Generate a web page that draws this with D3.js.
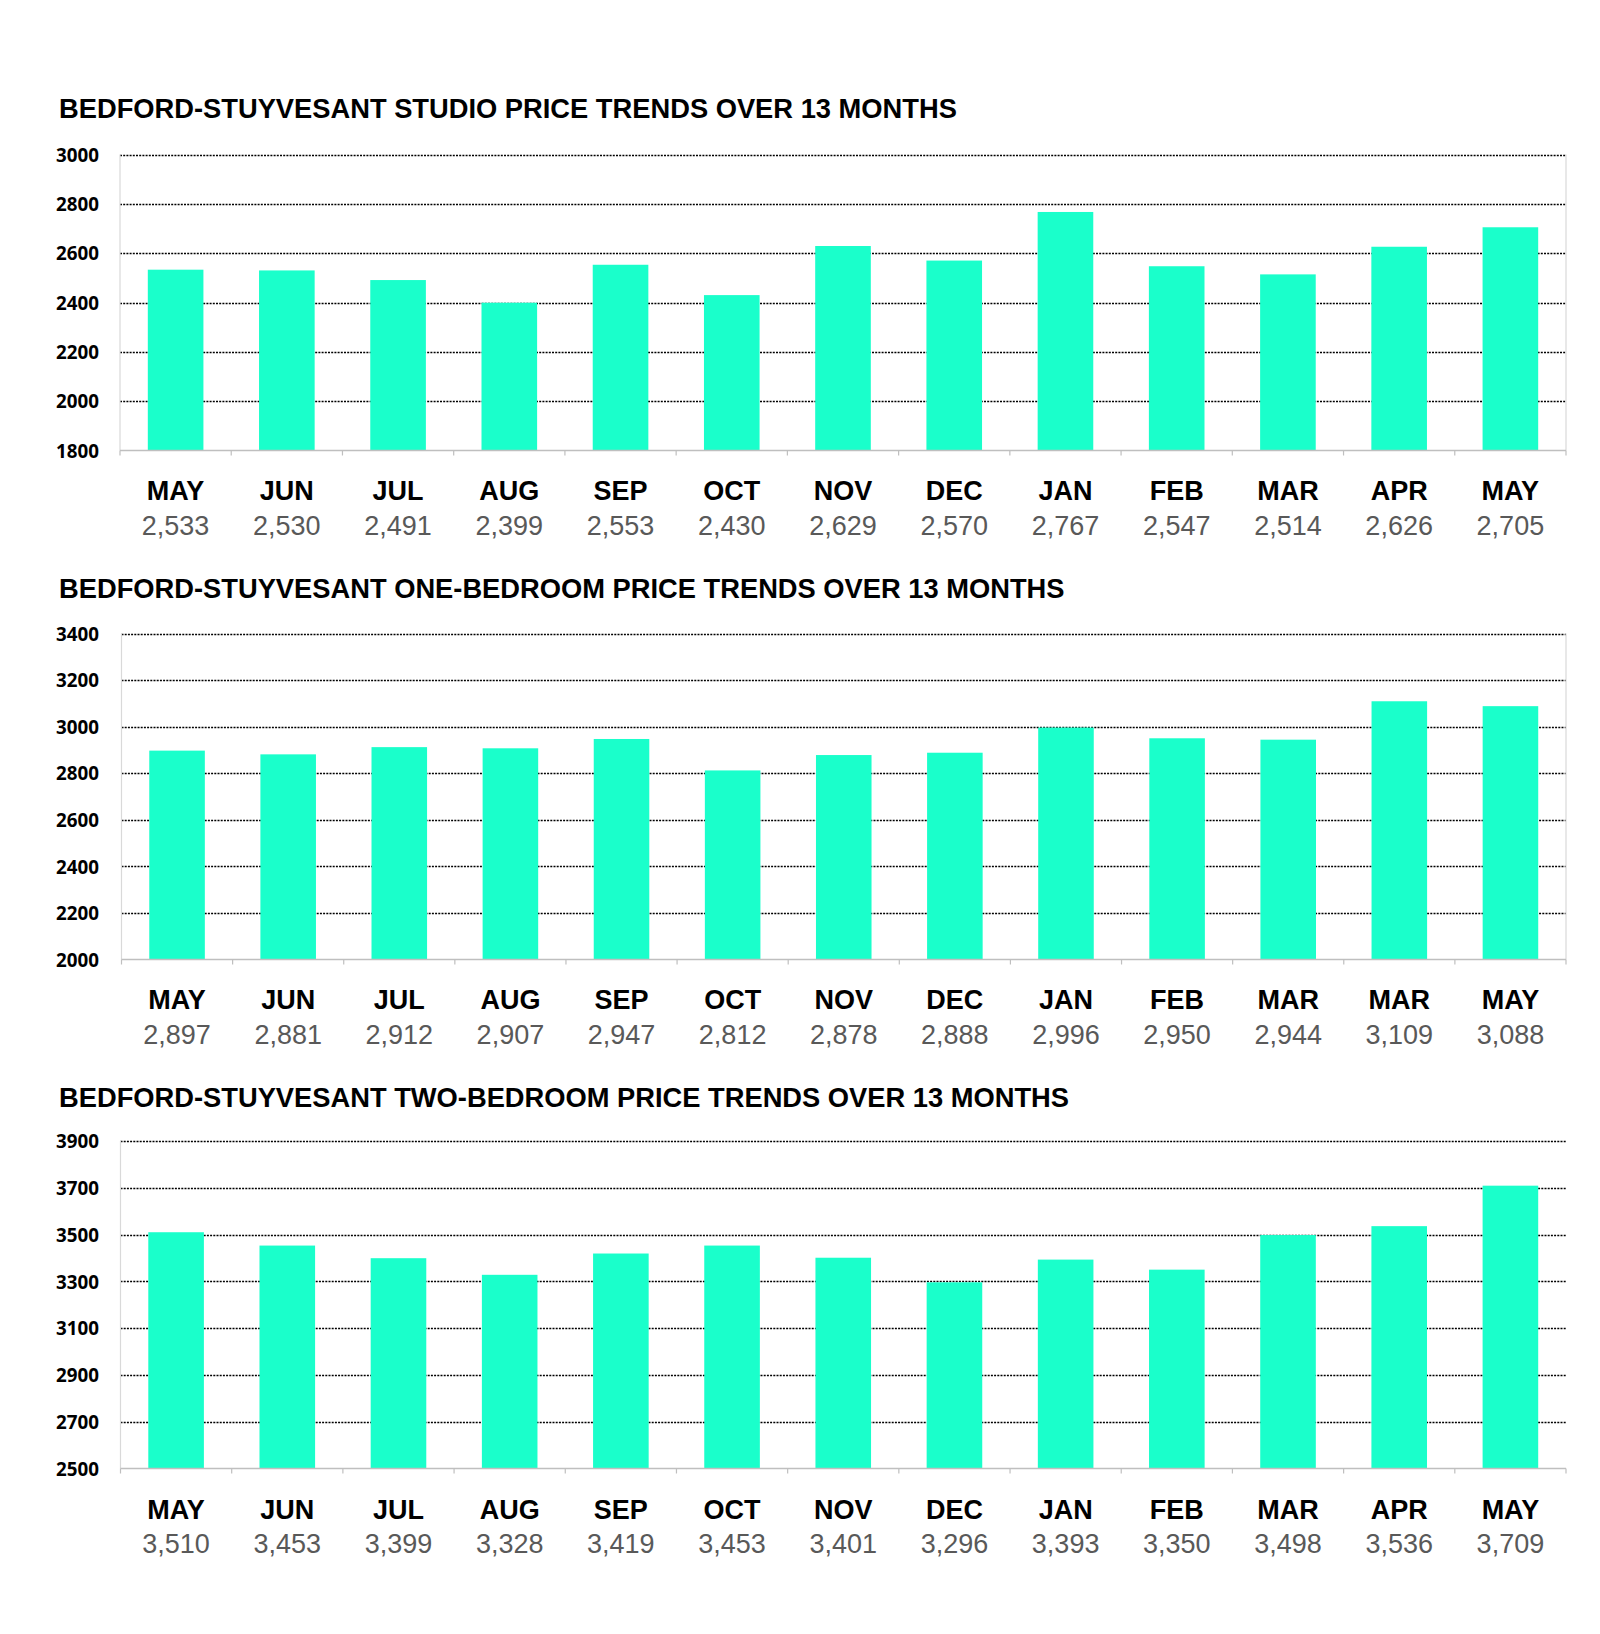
<!DOCTYPE html>
<html>
<head>
<meta charset="utf-8">
<script src="https://cdn.jsdelivr.net/npm/d3@7"></script>
<style>
  html, body { margin: 0; padding: 0; background: #fff; }
  svg { display: block; }
</style>
</head>
<body>
<svg id="chart" width="1600" height="1634"></svg>
<script>
// ---- DATA ----
const titles = [
  "BEDFORD-STUYVESANT STUDIO PRICE TRENDS OVER 13 MONTHS",
  "BEDFORD-STUYVESANT ONE-BEDROOM PRICE TRENDS OVER 13 MONTHS",
  "BEDFORD-STUYVESANT TWO-BEDROOM PRICE TRENDS OVER 13 MONTHS"
];
const monthsStudio = ["MAY","JUN","JUL","AUG","SEP","OCT","NOV","DEC","JAN","FEB","MAR","APR","MAY"];
const monthsOneBed = ["MAY","JUN","JUL","AUG","SEP","OCT","NOV","DEC","JAN","FEB","MAR","MAR","MAY"];
const monthsTwoBed = ["MAY","JUN","JUL","AUG","SEP","OCT","NOV","DEC","JAN","FEB","MAR","APR","MAY"];
const studio = [2533,2530,2491,2399,2553,2430,2629,2570,2767,2547,2514,2626,2705];
const oneBed = [2897,2881,2912,2907,2947,2812,2878,2888,2996,2950,2944,3109,3088];
const twoBed = [3510,3453,3399,3328,3419,3453,3401,3296,3393,3350,3498,3536,3709];
const ticksStudio = [1800,2000,2200,2400,2600,2800,3000];
const ticksOneBed = [2000,2200,2400,2600,2800,3000,3200,3400];
const ticksTwoBed = [2500,2700,2900,3100,3300,3500,3700,3900];

// ---- LAYOUT ----
const panels = [
  {title: titles[0], months: monthsStudio, values: studio, ticks: ticksStudio,
   titleY: 118, top: 154.5, bottom: 450.5, left: 120, right: 1566, catY: 500, valY: 534.5, rightBorder: true},
  {title: titles[1], months: monthsOneBed, values: oneBed, ticks: ticksOneBed,
   titleY: 598, top: 633.5, bottom: 959.5, left: 121.5, right: 1566, catY: 1008.5, valY: 1043.5, rightBorder: true},
  {title: titles[2], months: monthsTwoBed, values: twoBed, ticks: ticksTwoBed,
   titleY: 1107, top: 1141, bottom: 1468.5, left: 120.5, right: 1566, catY: 1518.5, valY: 1553, rightBorder: false}
];

const svg = d3.select("#chart");
const barColor = "#1affcb";
const fmt = d3.format(",");

panels.forEach(p => {
  const g = svg.append("g");
  const idx = d3.range(p.values.length);
  const x = d3.scaleBand().domain(idx).range([p.left, p.right]).paddingInner(0.5).paddingOuter(0.25);
  const y = d3.scaleLinear().domain([d3.min(p.ticks), d3.max(p.ticks)]).range([p.bottom, p.top]);

  // title
  g.append("text")
    .attr("x", 59).attr("y", p.titleY)
    .attr("font-family", "Liberation Sans, Arial, sans-serif")
    .attr("font-weight", "bold").attr("font-size", 27.3)
    .attr("fill", "#000")
    .text(p.title);

  // dotted gridlines (all but baseline)
  g.append("g").selectAll("line")
    .data(p.ticks.filter(t => t !== d3.min(p.ticks)))
    .join("line")
    .attr("x1", p.left).attr("x2", p.right)
    .attr("y1", d => Math.round(y(d)) + 0.5).attr("y2", d => Math.round(y(d)) + 0.5)
    .attr("stroke", "#000").attr("stroke-width", 1.6)
    .attr("stroke-dasharray", "2,1.2");

  // left axis line and right border
  g.append("line")
    .attr("x1", p.left).attr("x2", p.left)
    .attr("y1", p.top).attr("y2", p.bottom)
    .attr("stroke", "#d9d9d9").attr("stroke-width", 1.2);
  if (p.rightBorder) {
    g.append("line")
      .attr("x1", p.right).attr("x2", p.right)
      .attr("y1", p.top).attr("y2", p.bottom)
      .attr("stroke", "#d9d9d9").attr("stroke-width", 1.2);
  }

  // y axis labels
  const yAxis = d3.axisLeft(y).tickValues(p.ticks).tickSize(0).tickPadding(0).tickFormat(d3.format("d"));
  const ya = g.append("g").attr("transform", `translate(99,0)`).call(yAxis);
  ya.select(".domain").remove();
  ya.selectAll("text")
    .attr("font-family", "'Open Sans', Lato, sans-serif")
    .attr("font-weight", 700).attr("font-size", 18.8)
    .attr("fill", "#000").attr("dy", "0.36em");

  // bars
  g.append("g").selectAll("rect")
    .data(p.values)
    .join("rect")
    .attr("x", (d, i) => x(i))
    .attr("width", x.bandwidth())
    .attr("y", d => y(d))
    .attr("height", d => y(d3.min(p.ticks)) - y(d))
    .attr("fill", barColor);

  // bottom axis with boundary ticks
  g.append("line")
    .attr("x1", p.left).attr("x2", p.right)
    .attr("y1", p.bottom).attr("y2", p.bottom)
    .attr("stroke", "#bfbfbf").attr("stroke-width", 1.5);
  const step = x.step();
  g.append("g").selectAll("line")
    .data(d3.range(p.values.length + 1))
    .join("line")
    .attr("x1", i => p.left + i * step).attr("x2", i => p.left + i * step)
    .attr("y1", p.bottom).attr("y2", p.bottom + 5)
    .attr("stroke", "#bfbfbf").attr("stroke-width", 1.2);

  // category labels
  g.append("g").selectAll("text")
    .data(p.months)
    .join("text")
    .attr("x", (d, i) => x(i) + x.bandwidth() / 2)
    .attr("y", p.catY)
    .attr("text-anchor", "middle")
    .attr("font-family", "Liberation Sans, Arial, sans-serif")
    .attr("font-weight", "bold").attr("font-size", 27)
    .attr("fill", "#000")
    .text(d => d);

  // value labels
  g.append("g").selectAll("text")
    .data(p.values)
    .join("text")
    .attr("x", (d, i) => x(i) + x.bandwidth() / 2)
    .attr("y", p.valY)
    .attr("text-anchor", "middle")
    .attr("font-family", "Liberation Sans, Arial, sans-serif")
    .attr("font-size", 27)
    .attr("fill", "#595959")
    .text(d => fmt(d));
});
</script>
</body>
</html>
